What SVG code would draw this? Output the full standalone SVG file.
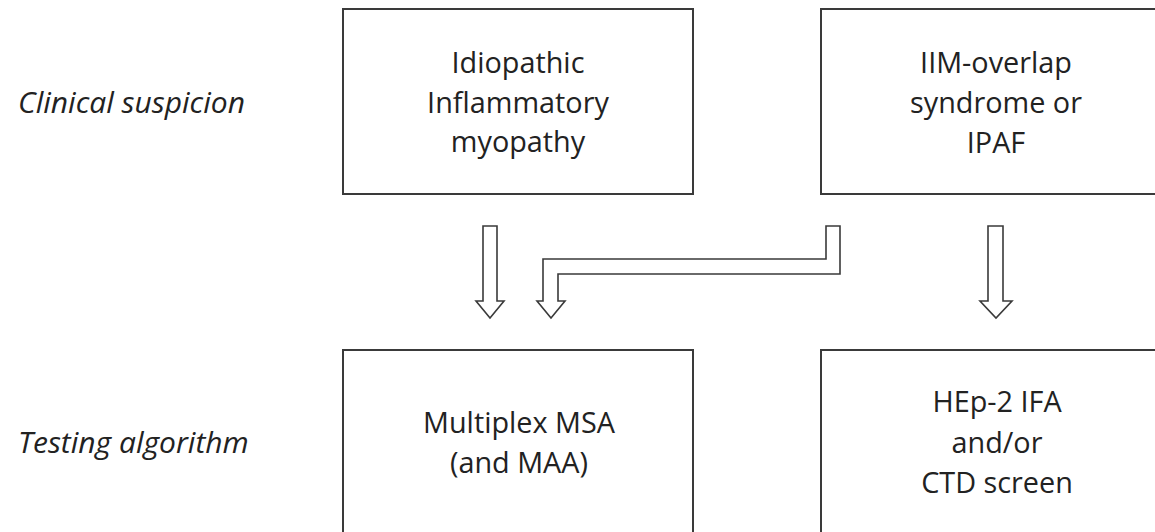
<svg xmlns="http://www.w3.org/2000/svg" width="1155" height="532" viewBox="0 0 1155 532">
<style>
.box{fill:#fff;stroke:#3a3a3a;stroke-width:2}
.arr{fill:#fff;stroke:#3a3a3a;stroke-width:1.6;stroke-linejoin:miter}
.t{font-family:"Open Sans","Noto Sans",sans-serif;font-size:28.8px;fill:#222;text-anchor:middle}
.lbl{font-family:"Open Sans","Noto Sans",sans-serif;font-size:30px;font-style:italic;fill:#222}
</style>
<rect width="1155" height="532" fill="#fff"/>
<text class="lbl" x="18" y="113">Clinical suspicion</text>
<text class="lbl" x="18" y="453">Testing algorithm</text>
<g id="node-iim">
<rect class="box" x="343" y="9" width="350" height="185"/>
<text class="t" x="518" y="73">Idiopathic</text>
<text class="t" x="518" y="113">Inflammatory</text>
<text class="t" x="518" y="152">myopathy</text>
</g>
<g id="node-overlap">
<rect class="box" x="821" y="9" width="350" height="185"/>
<text class="t" x="996" y="73">IIM-overlap</text>
<text class="t" x="996" y="113">syndrome or</text>
<text class="t" x="996" y="153">IPAF</text>
</g>
<g id="node-msa">
<rect class="box" x="343" y="350" width="350" height="200"/>
<text class="t" x="519" y="433">Multiplex MSA</text>
<text class="t" x="519" y="473">(and MAA)</text>
</g>
<g id="node-hep2">
<rect class="box" x="821" y="350" width="350" height="200"/>
<text class="t" x="997" y="412">HEp-2 IFA</text>
<text class="t" x="997" y="453">and/or</text>
<text class="t" x="997" y="493">CTD screen</text>
</g>
<g id="connectors">
<polygon class="arr" points="483,226 497,226 497,301 504,301 490,318 476,301 483,301"/>
<polygon class="arr" points="826,226 840,226 840,274 558,274 558,301 565,301 551,318 537,301 543,301 543,259 826,259"/>
<polygon class="arr" points="988,226 1003,226 1003,301 1012,301 996,318 980,301 988,301"/>
</g>
</svg>
